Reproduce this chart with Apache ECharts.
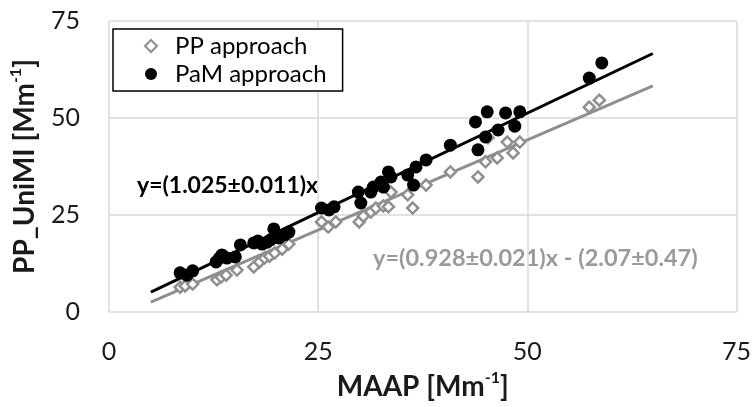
<!DOCTYPE html>
<html>
<head>
<meta charset="utf-8">
<script src="https://cdn.jsdelivr.net/npm/echarts@6/dist/echarts.min.js"></script>
<style>
html,body{margin:0;padding:0;background:#fff;}
#chart{width:754px;height:407px;}
</style>
</head>
<body>
<div id="chart"></div>
<script>
// PP approach (gray diamonds)
const ppX = [8.5, 9.1, 10.0, 12.9, 13.4, 14.0, 15.3, 17.3, 18.0, 18.6, 19.2, 19.8, 20.7, 21.5, 25.4, 26.2, 27.1, 29.9, 30.4, 31.3, 31.9, 32.8, 33.4, 33.7, 35.7, 36.3, 37.9, 40.8, 44.1, 45.0, 45.3, 46.4, 47.6, 48.3, 49.1, 57.4, 58.6];
const ppY = [6.4, 6.7, 7.2, 8.3, 9.0, 9.5, 10.8, 11.6, 12.9, 13.9, 14.4, 15.2, 16.2, 17.5, 23.2, 21.9, 23.2, 23.2, 24.7, 25.8, 26.8, 27.3, 27.1, 30.9, 30.2, 26.8, 32.7, 36.1, 34.8, 38.7, 44.9, 39.7, 43.8, 41.0, 43.8, 52.8, 54.6];
// PaM approach (black circles)
const pamX = [8.5, 9.3, 10.0, 12.8, 13.2, 13.5, 14.1, 15.1, 15.7, 17.3, 17.8, 18.3, 18.9, 19.3, 19.7, 20.3, 21.0, 21.5, 25.4, 26.3, 26.9, 29.8, 30.1, 31.3, 31.6, 32.5, 32.8, 33.4, 33.7, 35.7, 36.4, 36.7, 37.9, 40.8, 43.8, 44.1, 45.0, 45.2, 46.5, 47.4, 48.5, 49.1, 57.4, 58.9];
const pamY = [10.1, 9.5, 10.6, 12.9, 13.9, 14.7, 13.9, 14.2, 17.3, 17.8, 18.3, 17.5, 18.0, 18.6, 21.4, 19.1, 19.9, 20.6, 26.8, 26.3, 27.1, 30.9, 28.1, 30.9, 32.2, 33.5, 32.2, 36.1, 34.8, 35.3, 32.7, 37.4, 39.2, 43.0, 49.0, 41.8, 45.1, 51.6, 46.9, 51.3, 47.9, 51.6, 60.3, 64.2];
// Fit lines
const fitRange = [5, 65];
const pamSlope = 1.025;
const ppSlope = 0.928, ppIntercept = -2.07;
const xTicks = [0, 25, 50, 75];
const yTicks = [0, 25, 50, 75];

const zip = (a, b) => a.map((v, i) => [v, b[i]]);
const pamFit = fitRange.map(x => [x, pamSlope * x]);
const ppFit = fitRange.map(x => [x, ppSlope * x + ppIntercept]);

const FONT = 'Lato';
const GRAY = '#8f8f8f';
const titleRich = {
  b: {fontFamily: FONT, fontSize: 28, fontWeight: 'bold', color: '#1a1a1a', lineHeight: 34},
  s: {fontFamily: FONT, fontSize: 16, fontWeight: 'bold', color: '#1a1a1a', verticalAlign: 'top', lineHeight: 34}
};
const chart = echarts.init(document.getElementById('chart'), null, {renderer: 'canvas'});
chart.setOption({
  animation: false,
  textStyle: {fontFamily: FONT},
  grid: {left: 106, right: 16, top: 21, bottom: 95, containLabel: false},
  legend: {
    orient: 'vertical',
    left: 113, top: 29,
    padding: [5, 16, 5, 31],
    itemGap: 4,
    itemWidth: 12, itemHeight: 12,
    borderColor: '#000', borderWidth: 1.5,
    backgroundColor: '#fff',
    textStyle: {fontFamily: FONT, fontSize: 24, color: '#000', padding: [0, 0, 0, 13]},
    data: ['PP approach', 'PaM approach']
  },
  xAxis: {
    type: 'value', min: xTicks[0], max: xTicks[xTicks.length - 1], interval: 25,
    axisLine: {show: false}, axisTick: {show: false},
    splitLine: {show: true, lineStyle: {color: '#d9d9d9', width: 1.5}},
    axisLabel: {fontFamily: FONT, fontSize: 25, color: '#1a1a1a', margin: 27},
    name: '{b|MAAP [Mm}{s|-1}{b|]}', nameLocation: 'middle', nameGap: 58,
    nameTextStyle: {rich: titleRich}
  },
  yAxis: {
    type: 'value', min: yTicks[0], max: yTicks[yTicks.length - 1], interval: 25,
    axisLine: {show: false}, axisTick: {show: false},
    splitLine: {show: true, lineStyle: {color: '#d9d9d9', width: 1.5}},
    axisLabel: {fontFamily: FONT, fontSize: 25, color: '#1a1a1a', margin: 29},
    name: '{b|PP_UniMI [Mm}{s|-1}{b|]}', nameLocation: 'middle', nameGap: 67, nameRotate: 90,
    nameTextStyle: {rich: titleRich}
  },
  graphic: [
    {type: 'text', left: 137, top: 174, style: {text: 'y=(1.025±0.011)x', font: 'bold 23px Lato', fill: '#000'}},
    {type: 'text', left: 373, top: 246, style: {text: 'y=(0.928±0.021)x - (2.07±0.47)', font: 'bold 23.5px Lato', fill: '#9a9a9a'}}
  ],
  series: [
    {type: 'line', name: 'ppFit', data: ppFit, symbol: 'none', lineStyle: {color: GRAY, width: 3}, z: 1, silent: true},
    {type: 'line', name: 'pamFit', data: pamFit, symbol: 'none', lineStyle: {color: '#000', width: 3}, z: 1, silent: true},
    {type: 'scatter', name: 'PP approach', data: zip(ppX, ppY), symbol: 'diamond', symbolSize: 11,
      itemStyle: {color: '#fff', borderColor: GRAY, borderWidth: 2.5, opacity: 1}, z: 2},
    {type: 'scatter', name: 'PaM approach', data: zip(pamX, pamY), symbol: 'circle', symbolSize: 13,
      itemStyle: {color: '#000', opacity: 1}, z: 3}
  ]
});
</script>
</body>
</html>
